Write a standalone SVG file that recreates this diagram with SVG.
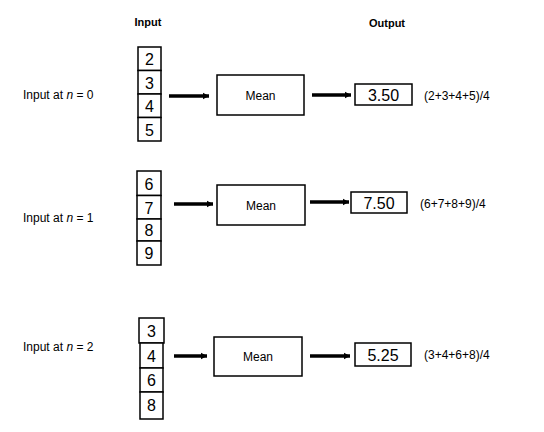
<svg xmlns="http://www.w3.org/2000/svg" width="544" height="432" viewBox="0 0 544 432">
<style>
text{font-family:"Liberation Sans",Arial,sans-serif;fill:#000}
.hdr{font-size:11px;font-weight:bold;text-anchor:middle}
.lbl{font-size:12px}
.cell{fill:#fff;stroke:#000;stroke-width:1.5}
.num{font-size:16px;text-anchor:middle}
.box{fill:#fff;stroke:#000;stroke-width:1.5}
.mean{font-size:12px;text-anchor:middle}
.out{font-size:16px;text-anchor:middle}
.f{font-size:12px}
.arr{stroke:#000;stroke-width:3.5;fill:none;marker-end:url(#ah)}
</style>
<defs>
<marker id="ah" markerUnits="userSpaceOnUse" markerWidth="8" markerHeight="8" refX="6" refY="4" orient="auto">
<path d="M0,0.8 L6,4 L0,7.2 Z" fill="#000"/>
</marker>
</defs>
<rect width="544" height="432" fill="#fff"/>
<text class="hdr" x="148" y="26">Input</text>
<text class="hdr" x="387" y="27">Output</text>

<g id="label0"><text class="lbl" x="23" y="99">Input at <tspan font-style="italic">n</tspan> = 0</text></g>
<g id="input0">
<rect class="cell" x="138" y="47" width="23" height="23.5"/>
<rect class="cell" x="138" y="70.5" width="23" height="23.5"/>
<rect class="cell" x="138" y="94" width="23" height="23.5"/>
<rect class="cell" x="138" y="117.5" width="23" height="23.5"/>
<text class="num" x="149.5" y="65">2</text>
<text class="num" x="149.5" y="88.5">3</text>
<text class="num" x="149.5" y="112">4</text>
<text class="num" x="149.5" y="135.5">5</text>
</g>
<g id="mean0"><rect class="box" x="217" y="75" width="87" height="40"/><text class="mean" x="260.5" y="100">Mean</text></g>
<g id="out0"><rect class="box" x="355" y="84" width="57" height="21"/><text class="out" x="383.5" y="100.5">3.50</text></g>
<g id="formula0"><text class="f" x="424" y="100">(2+3+4+5)/4</text></g>

<g id="label1"><text class="lbl" x="23" y="222">Input at <tspan font-style="italic">n</tspan> = 1</text></g>
<g id="input1">
<rect class="cell" x="137" y="171" width="24" height="24.5"/>
<rect class="cell" x="137" y="195.5" width="24" height="23.5"/>
<rect class="cell" x="137" y="219" width="24" height="22"/>
<rect class="cell" x="137" y="241" width="24" height="24"/>
<text class="num" x="149" y="190">6</text>
<text class="num" x="149" y="213.5">7</text>
<text class="num" x="149" y="236">8</text>
<text class="num" x="149" y="259">9</text>
</g>
<g id="mean1"><rect class="box" x="217" y="185" width="88" height="40"/><text class="mean" x="261" y="210">Mean</text></g>
<g id="out1"><rect class="box" x="351" y="192" width="56" height="21"/><text class="out" x="379" y="208.5">7.50</text></g>
<g id="formula1"><text class="f" x="420" y="208">(6+7+8+9)/4</text></g>

<g id="label2"><text class="lbl" x="23" y="351">Input at <tspan font-style="italic">n</tspan> = 2</text></g>
<g id="input2">
<rect class="cell" x="139" y="318" width="25" height="25"/>
<rect class="cell" x="140" y="343" width="23" height="25"/>
<rect class="cell" x="140" y="368" width="23" height="24"/>
<rect class="cell" x="140" y="392" width="23" height="27"/>
<text class="num" x="151.5" y="336.5">3</text>
<text class="num" x="151.5" y="361.5">4</text>
<text class="num" x="151.5" y="386">6</text>
<text class="num" x="151.5" y="411">8</text>
</g>
<g id="mean2"><rect class="box" x="214" y="337" width="88" height="39"/><text class="mean" x="258" y="361">Mean</text></g>
<g id="out2"><rect class="box" x="355" y="343" width="56" height="23"/><text class="out" x="383" y="360.5">5.25</text></g>
<g id="formula2"><text class="f" x="424" y="359">(3+4+6+8)/4</text></g>

<g id="connectors">
<line class="arr" x1="169" y1="96" x2="209" y2="96"/>
<line class="arr" x1="312" y1="95" x2="351" y2="95"/>
<line class="arr" x1="174" y1="204" x2="213" y2="204"/>
<line class="arr" x1="310" y1="202" x2="349" y2="202"/>
<line class="arr" x1="174" y1="356" x2="207" y2="356"/>
<line class="arr" x1="310" y1="356" x2="350" y2="356"/>
</g>
</svg>
